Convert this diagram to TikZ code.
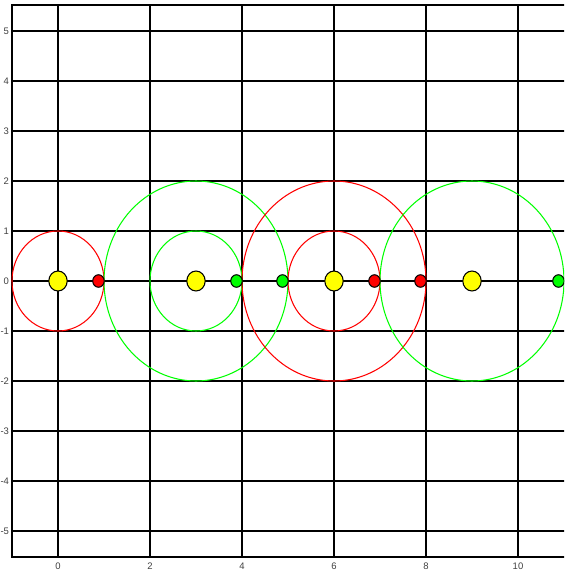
\documentclass[tikz,border=0pt]{standalone}
\usepackage{fontspec}
\setmainfont{Liberation Sans}
\definecolor{pRed}{RGB}{255,0,0}
\definecolor{pGreen}{RGB}{0,255,0}
\definecolor{pYellow}{RGB}{255,255,0}
\tikzset{
  gridline/.style={black, line width=0.38pt},
  frameline/.style={black, line width=0.6pt},
  ring/.style={line width=0.3pt},
  bigdot/.style={draw=black, fill=pYellow, line width=0.3pt},
  smalldot/.style={draw=black, line width=0.3pt},
  ticklabel/.style={font=\fontsize{2.7}{3}\selectfont, text=black!75, inner sep=0pt}
}
\begin{document}
\begin{tikzpicture}[x=0.46cm,y=0.5cm]
\useasboundingbox (-1.2609,-5.86) rectangle (11,5.62);
\begin{scope}
\clip (-1.2609,-5.86) rectangle (11,5.62);
% grid
\foreach \y in {-5,...,5} \draw[gridline] (-1,\y) -- (11.2,\y);
\foreach \x in {0,2,...,10} \draw[gridline] (\x,-5.52) -- (\x,5.52);
% frame
\draw[frameline] (11.2,5.52) -- (-1,5.52) -- (-1,-5.52) -- (11.2,-5.52);
% rings
\draw[ring, pRed] (0,0) ellipse [x radius=1, y radius=1];
\draw[ring, pGreen] (3,0) ellipse [x radius=2, y radius=2];
\draw[ring, pGreen] (3,0) ellipse [x radius=1, y radius=1];
\draw[ring, pRed] (6,0) ellipse [x radius=2, y radius=2];
\draw[ring, pRed] (6,0) ellipse [x radius=1, y radius=1];
\draw[ring, pGreen] (9,0) ellipse [x radius=2, y radius=2];
% yellow dots
\foreach \x in {0,3,6,9} \draw[bigdot] (\x,0) ellipse [x radius=0.2, y radius=0.2];
% small dots
\foreach \x in {0.88,6.88,7.88} \draw[smalldot, fill=pRed] (\x,0) ellipse [x radius=0.125, y radius=0.125];
\foreach \x in {3.88,4.88,10.88} \draw[smalldot, fill=pGreen] (\x,0) ellipse [x radius=0.125, y radius=0.125];
\end{scope}
% labels
\foreach \y in {-5,...,5} \node[ticklabel, anchor=east] (yl\y) at (-1.05,\y) {\y};
\foreach \x in {0,2,...,10} \node[ticklabel] (xl\x) at (\x,-5.7) {\x};
\end{tikzpicture}
\end{document}
